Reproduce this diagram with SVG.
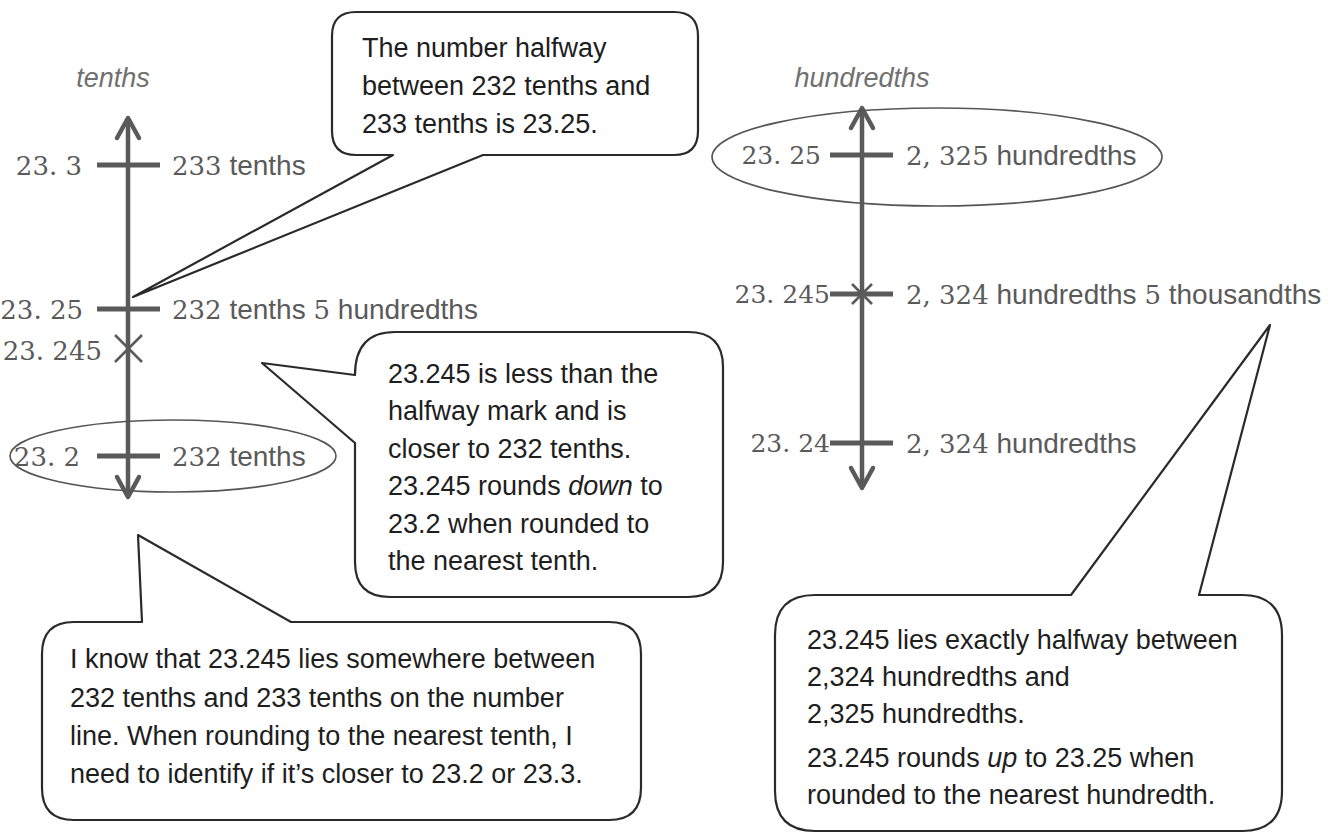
<svg xmlns="http://www.w3.org/2000/svg" width="1330" height="833" viewBox="0 0 1330 833">
<style>
.num{font-family:"DejaVu Serif","Liberation Serif",serif;font-size:26px;fill:#5a5a5a}
.nums{font-family:"DejaVu Serif","Liberation Serif",serif;font-size:25px;fill:#5a5a5a}
.wd{font-family:"Liberation Sans",Arial,sans-serif;font-size:28px;fill:#5a5a5a}
.ttl{font-family:"Liberation Sans",Arial,sans-serif;font-size:27px;font-style:italic;fill:#707070}
.bt{font-family:"Liberation Sans",Arial,sans-serif;font-size:27px;fill:#1e1e1e}
.it{font-style:italic}
.axis{stroke:#5a5a5a;stroke-width:4.5;fill:none}
.tick{stroke:#5a5a5a;stroke-width:5}
.arrow{stroke:#5a5a5a;stroke-width:4.5;fill:none;stroke-linecap:round;stroke-linejoin:round}
.xm{stroke:#5a5a5a;stroke-width:2.5}
.oval{fill:none;stroke:#555;stroke-width:1.6}
.bub{fill:#fff;stroke:#2a2a2a;stroke-width:2.2;stroke-linejoin:round}
</style>
<rect width="1330" height="833" fill="#fff"/>

<g id="tenths-line">
<text class="ttl" x="113" y="87" text-anchor="middle">tenths</text>
<line class="axis" x1="128" y1="120" x2="128" y2="494"/>
<polyline class="arrow" points="117,138 128,118 139,138"/>
<polyline class="arrow" points="117,477 128,497 139,477"/>
<line class="tick" x1="97" y1="165" x2="160" y2="165"/>
<text class="num" x="82" y="175" text-anchor="end">23. 3</text>
<text class="num" x="172" y="175">233<tspan class="wd"> tenths</tspan></text>
<line class="tick" x1="97" y1="309" x2="160" y2="309"/>
<text class="num" x="83" y="319" text-anchor="end">23. 25</text>
<text class="num" x="172" y="319">232<tspan class="wd"> tenths </tspan>5<tspan class="wd"> hundredths</tspan></text>
<line class="xm" x1="115" y1="335" x2="142" y2="362"/>
<line class="xm" x1="142" y1="335" x2="115" y2="362"/>
<text class="num" x="102" y="360" text-anchor="end">23. 245</text>
<ellipse class="oval" cx="173" cy="456" rx="163" ry="36"/>
<line class="tick" x1="97" y1="456" x2="160" y2="456"/>
<text class="num" x="80" y="466" text-anchor="end">23. 2</text>
<text class="num" x="172" y="466">232<tspan class="wd"> tenths</tspan></text>
</g>

<g id="hundredths-line">
<text class="ttl" x="862" y="87" text-anchor="middle">hundredths</text>
<line class="axis" x1="862" y1="110" x2="862" y2="485"/>
<polyline class="arrow" points="851,128 862,108 873,128"/>
<polyline class="arrow" points="851,468 862,488 873,468"/>
<ellipse class="oval" cx="937" cy="157" rx="225" ry="49"/>
<line class="tick" x1="830" y1="155" x2="893" y2="155"/>
<text class="nums" x="821" y="164" text-anchor="end">23. 25</text>
<text class="num" x="906" y="165">2, 325<tspan class="wd"> hundredths</tspan></text>
<line class="tick" x1="830" y1="294" x2="893" y2="294"/>
<line class="xm" x1="852" y1="284" x2="872" y2="304"/>
<line class="xm" x1="872" y1="284" x2="852" y2="304"/>
<text class="nums" x="830" y="303" text-anchor="end">23. 245</text>
<text class="num" x="906" y="304">2, 324<tspan class="wd"> hundredths </tspan>5<tspan class="wd"> thousandths</tspan></text>
<line class="tick" x1="830" y1="443" x2="893" y2="443"/>
<text class="nums" x="830" y="452" text-anchor="end">23. 24</text>
<text class="num" x="906" y="453">2, 324<tspan class="wd"> hundredths</tspan></text>
</g>

<g id="bubble-halfway">
<path class="bub" d="M 356,12 H 674 Q 698,12 698,36 V 131 Q 698,155 674,155 H 483 L 133,297 L 393,155 H 356 Q 332,155 332,131 V 36 Q 332,12 356,12 Z"/>
<text class="bt" x="362" y="57">The number halfway</text>
<text class="bt" x="362" y="95">between 232 tenths and</text>
<text class="bt" x="362" y="133">233 tenths is 23.25.</text>
</g>

<g id="bubble-less">
<path class="bub" d="M 395,332 H 688 Q 723,332 723,367 V 562 Q 723,597 688,597 H 390 Q 355,597 355,562 V 443 L 262,363 L 355,375 Q 355,332 395,332 Z"/>
<text class="bt" x="388" y="383">23.245 is less than the</text>
<text class="bt" x="388" y="420">halfway mark and is</text>
<text class="bt" x="388" y="458">closer to 232 tenths.</text>
<text class="bt" x="388" y="495">23.245 rounds <tspan class="it">down</tspan> to</text>
<text class="bt" x="388" y="533">23.2 when rounded to</text>
<text class="bt" x="388" y="570">the nearest tenth.</text>
</g>

<g id="bubble-know">
<path class="bub" d="M 74,622 H 142 L 138,535 L 291,622 H 609 Q 641,622 641,654 V 788 Q 641,820 609,820 H 74 Q 42,820 42,788 V 654 Q 42,622 74,622 Z"/>
<text class="bt" x="70" y="668">I know that 23.245 lies somewhere between</text>
<text class="bt" x="70" y="707">232 tenths and 233 tenths on the number</text>
<text class="bt" x="70" y="745">line.  When rounding to the nearest tenth, I</text>
<text class="bt" x="70" y="783">need to identify if it’s closer to 23.2 or 23.3.</text>
</g>

<g id="bubble-exactly">
<path class="bub" d="M 815,595 H 1071 L 1270,325 L 1199,595 H 1242 Q 1282,595 1282,635 V 791 Q 1282,831 1242,831 H 815 Q 775,831 775,791 V 635 Q 775,595 815,595 Z"/>
<text class="bt" x="807" y="649">23.245 lies exactly halfway between</text>
<text class="bt" x="807" y="686">2,324 hundredths and</text>
<text class="bt" x="807" y="723">2,325 hundredths.</text>
<text class="bt" x="807" y="767">23.245 rounds <tspan class="it">up</tspan> to 23.25 when</text>
<text class="bt" x="807" y="804">rounded to the nearest hundredth.</text>
</g>
</svg>
